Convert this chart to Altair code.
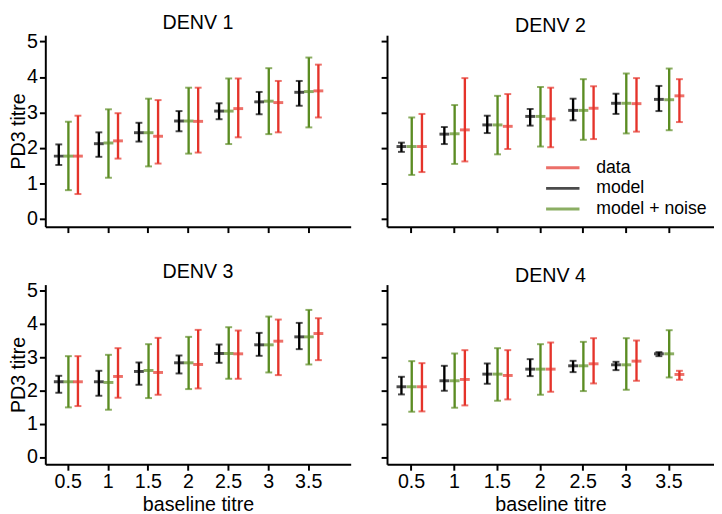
import altair as alt
import pandas as pd

FONT = "Liberation Sans"
baseline = [0.5, 1.0, 1.5, 2.0, 2.5, 3.0, 3.5]
series_names = ["data", "model", "model + noise"]
series_colors = ["#e5332a", "#000000", "#5b8c22"]
panels = ["DENV 1", "DENV 2", "DENV 3", "DENV 4"]

# DENV 1
d1_model_mean = [1.77, 2.12, 2.43, 2.76, 3.04, 3.30, 3.57]
d1_model_lo = [1.52, 1.75, 2.18, 2.47, 2.81, 2.95, 3.19]
d1_model_hi = [2.10, 2.44, 2.71, 3.04, 3.26, 3.58, 3.89]
d1_noise_mean = [1.77, 2.14, 2.43, 2.76, 3.04, 3.32, 3.59]
d1_noise_lo = [0.81, 1.16, 1.48, 1.84, 2.11, 2.39, 2.58]
d1_noise_hi = [2.74, 3.09, 3.39, 3.70, 3.96, 4.25, 4.55]
d1_data_mean = [1.77, 2.20, 2.33, 2.75, 3.11, 3.28, 3.61]
d1_data_lo = [0.70, 1.70, 1.56, 1.87, 2.30, 2.44, 2.86]
d1_data_hi = [2.91, 2.98, 3.35, 3.70, 3.96, 3.89, 4.35]
# DENV 2
d2_model_mean = [2.04, 2.39, 2.65, 2.89, 3.06, 3.26, 3.37]
d2_model_lo = [1.89, 2.11, 2.42, 2.63, 2.78, 2.96, 3.04]
d2_model_hi = [2.15, 2.59, 2.91, 3.10, 3.39, 3.53, 3.75]
d2_noise_mean = [2.04, 2.40, 2.65, 2.89, 3.06, 3.26, 3.36]
d2_noise_lo = [1.24, 1.55, 1.82, 2.04, 2.23, 2.41, 2.50]
d2_noise_hi = [2.86, 3.21, 3.47, 3.72, 3.94, 4.10, 4.24]
d2_data_mean = [2.04, 2.51, 2.61, 2.82, 3.12, 3.25, 3.47]
d2_data_lo = [1.32, 1.62, 1.97, 2.02, 2.25, 2.46, 2.73]
d2_data_hi = [2.96, 3.97, 3.52, 3.70, 3.74, 3.97, 3.94]
# DENV 3
d3_model_mean = [2.26, 2.26, 2.57, 2.83, 3.11, 3.37, 3.61]
d3_model_lo = [1.93, 1.84, 2.17, 2.51, 2.83, 3.04, 3.24]
d3_model_hi = [2.44, 2.59, 2.84, 3.05, 3.38, 3.73, 4.03]
d3_noise_mean = [2.26, 2.24, 2.60, 2.83, 3.11, 3.37, 3.61]
d3_noise_lo = [1.49, 1.42, 1.77, 2.04, 2.35, 2.54, 2.78]
d3_noise_hi = [3.03, 3.07, 3.39, 3.61, 3.90, 4.22, 4.42]
d3_data_mean = [2.26, 2.42, 2.54, 2.78, 3.10, 3.48, 3.71]
d3_data_lo = [1.53, 1.78, 1.87, 2.06, 2.35, 2.46, 2.91]
d3_data_hi = [3.03, 3.27, 3.58, 3.82, 3.80, 4.13, 4.17]
# DENV 4
d4_model_mean = [2.11, 2.29, 2.49, 2.64, 2.74, 2.77, 3.10]
d4_model_lo = [1.88, 1.99, 2.20, 2.43, 2.55, 2.61, 3.03]
d4_model_hi = [2.41, 2.74, 2.81, 2.94, 2.89, 2.86, 3.15]
d4_noise_mean = [2.11, 2.29, 2.49, 2.64, 2.74, 2.77, 3.10]
d4_noise_lo = [1.36, 1.48, 1.69, 1.87, 1.98, 2.02, 2.39]
d4_noise_hi = [2.88, 3.11, 3.27, 3.39, 3.46, 3.57, 3.81]
d4_data_mean = [2.11, 2.33, 2.45, 2.64, 2.80, 2.88, 2.48]
d4_data_lo = [1.37, 1.55, 1.73, 1.96, 2.21, 2.29, 2.32]
d4_data_hi = [2.82, 3.21, 3.21, 3.44, 3.57, 3.50, 2.59]

table = {
    "DENV 1": {"model": (d1_model_mean, d1_model_lo, d1_model_hi),
               "model + noise": (d1_noise_mean, d1_noise_lo, d1_noise_hi),
               "data": (d1_data_mean, d1_data_lo, d1_data_hi)},
    "DENV 2": {"model": (d2_model_mean, d2_model_lo, d2_model_hi),
               "model + noise": (d2_noise_mean, d2_noise_lo, d2_noise_hi),
               "data": (d2_data_mean, d2_data_lo, d2_data_hi)},
    "DENV 3": {"model": (d3_model_mean, d3_model_lo, d3_model_hi),
               "model + noise": (d3_noise_mean, d3_noise_lo, d3_noise_hi),
               "data": (d3_data_mean, d3_data_lo, d3_data_hi)},
    "DENV 4": {"model": (d4_model_mean, d4_model_lo, d4_model_hi),
               "model + noise": (d4_noise_mean, d4_noise_lo, d4_noise_hi),
               "data": (d4_data_mean, d4_data_lo, d4_data_hi)},
}

rows = []
for p in panels:
    for s in ["model", "model + noise", "data"]:
        mean, lo, hi = table[p][s]
        for i, x in enumerate(baseline):
            rows.append({"panel": p, "series": s, "x": x,
                         "mean": mean[i], "lo": lo[i], "hi": hi[i]})
df = pd.DataFrame(rows)

XDOM = [0.22, 4.03]
YDOM = [-0.22, 5.18]


def panel(name, w, h, xlabels, ylabels, legend):
    xaxis = alt.Axis(values=baseline, format="~g", labels=xlabels,
                     title="baseline titre" if xlabels else None,
                     titlePadding=3, labelPadding=2)
    yaxis = alt.Axis(values=[0, 1, 2, 3, 4, 5], labels=ylabels,
                     title="PD3 titre" if ylabels else None,
                     titlePadding=-2, labelPadding=2)
    x = alt.X("xp:Q", scale=alt.Scale(domain=XDOM, nice=False, zero=False), axis=xaxis)
    if legend:
        leg = alt.Legend(title=None, orient="none", legendX=170, legendY=126,
                         symbolType="M-3.4,0H3.4", symbolSize=100, symbolStrokeWidth=3,
                         labelFontSize=18, labelFont=FONT, labelColor="black",
                         labelOffset=25, rowPadding=3, padding=0)
    else:
        leg = None
    color = alt.Color("series:N", scale=alt.Scale(domain=series_names, range=series_colors),
                      legend=leg)
    base = alt.Chart(df).transform_filter(alt.datum.panel == name).transform_calculate(
        xp="datum.x + (datum.series == 'model' ? -0.112 : (datum.series == 'data' ? 0.127 : 0.008))"
    )
    ysc = alt.Scale(domain=YDOM, nice=False, zero=False)
    rule = base.mark_rule(strokeWidth=2.4).encode(
        x=x, y=alt.Y("lo:Q", scale=ysc, axis=yaxis), y2="hi:Q", color=color)
    cap_lo = base.mark_tick(orient="horizontal", size=7, thickness=2).encode(
        x=x, y=alt.Y("lo:Q", scale=ysc, axis=yaxis), color=color)
    cap_hi = base.mark_tick(orient="horizontal", size=7, thickness=2).encode(
        x=x, y=alt.Y("hi:Q", scale=ysc, axis=yaxis), color=color)
    mid = base.mark_tick(orient="horizontal", size=10, thickness=3).encode(
        x=x, y=alt.Y("mean:Q", scale=ysc, axis=yaxis), color=color)
    return alt.layer(rule, cap_lo, cap_hi, mid).properties(
        width=w, height=h,
        title=alt.TitleParams(name, fontSize=20, font=FONT, fontWeight="normal",
                              offset=-1, color="black"))


top = alt.hconcat(panel("DENV 1", 311, 195, False, True, False),
                  panel("DENV 2", 333, 195, False, False, True),
                  spacing=30).resolve_scale(color="independent")
bottom = alt.hconcat(panel("DENV 3", 311, 183, True, True, False),
                     panel("DENV 4", 333, 183, True, False, False),
                     spacing=30).resolve_scale(color="independent")

chart = alt.vconcat(top, bottom, spacing=29).resolve_scale(color="independent").properties(
    padding={"left": 0, "top": 0, "right": 0, "bottom": 0}
).configure_view(stroke=None).configure_axis(
    grid=False, domainColor="black", domainWidth=2, tickColor="black", tickWidth=2,
    tickSize=6, labelFont=FONT, labelFontSize=20, labelColor="black",
    titleFont=FONT, titleFontSize=20, titleFontWeight="normal", titleColor="black"
)

chart.save("out.html", embed_options={"renderer": "svg", "actions": False})
